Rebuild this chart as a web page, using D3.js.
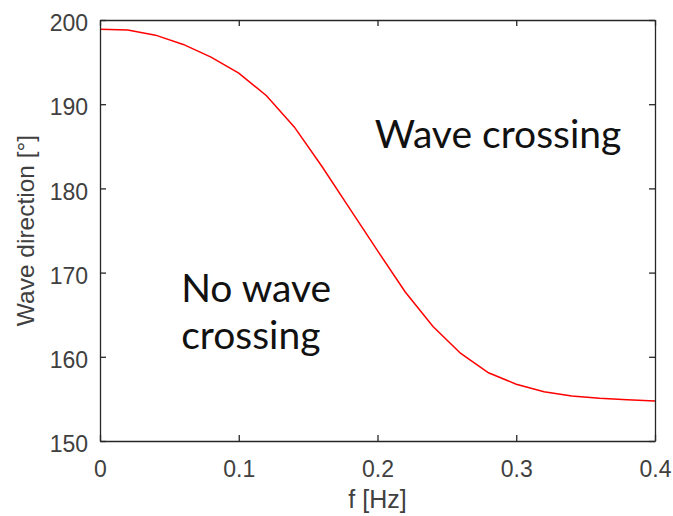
<!DOCTYPE html>
<html><head><meta charset="utf-8">
<script src="https://cdn.jsdelivr.net/npm/d3@7"></script>
<style>body{margin:0;background:#fff}svg{display:block}</style>
</head><body>
<script>
const freq = [0,0.02,0.04,0.06,0.08,0.10,0.12,0.14,0.16,0.18,0.20,0.22,0.24,0.26,0.28,0.30,0.32,0.34,0.36,0.38,0.40];
const direction = [198.9,198.8,198.2,197.1,195.6,193.7,191.0,187.3,182.6,177.6,172.6,167.7,163.6,160.4,158.1,156.75,155.85,155.35,155.08,154.9,154.76];
const xTicks = [0,0.1,0.2,0.3,0.4];
const yTicks = [150,160,170,180,190,200];
const xLabel = "f [Hz]";
const yLabel = "Wave direction [°]";
const notes = [{lines:["Wave crossing"], f:0.198, v:184.8},{lines:["No wave","crossing"], f:0.0585, v:166.5}];

const W=673,H=516, m={left:100,right:18,top:20,bottom:75};
const svg=d3.select("body").append("svg").attr("width",W).attr("height",H);
const x=d3.scaleLinear().domain([0,0.4]).range([m.left,W-m.right]);
const y=d3.scaleLinear().domain([150,200]).range([H-m.bottom,m.top]);
const axc="#262626", tf="'Liberation Sans', Arial, sans-serif";

// curve
svg.append("path").datum(freq.map((f,i)=>[f,direction[i]]))
  .attr("fill","none").attr("stroke","#ff0000").attr("stroke-width",1.5)
  .attr("d",d3.line().x(d=>x(d[0])).y(d=>y(d[1])));

// axes
const fmtX=d=>d===0?"0":d3.format(".1f")(d);
const ax=svg.append("g").attr("transform",`translate(0,${y(150)})`).call(d3.axisBottom(x).tickValues(xTicks).tickFormat(fmtX).tickSizeInner(-6).tickSizeOuter(0).tickPadding(20));
const axt=svg.append("g").attr("transform",`translate(0,${y(200)})`).call(d3.axisTop(x).tickValues(xTicks).tickFormat("").tickSizeInner(-6).tickSizeOuter(0));
const ay=svg.append("g").attr("transform",`translate(${x(0)},0)`).call(d3.axisLeft(y).tickValues(yTicks).tickSizeInner(-6).tickSizeOuter(0).tickPadding(12));
const ayr=svg.append("g").attr("transform",`translate(${x(0.4)},0)`).call(d3.axisRight(y).tickValues(yTicks).tickFormat("").tickSizeInner(-6).tickSizeOuter(0));
[ax,axt,ay,ayr].forEach(g=>{
  g.selectAll("path,line").attr("stroke",axc).attr("stroke-width",1.3);
  g.selectAll("text").attr("fill","#404040").style("font-family",tf).style("font-size","23px");
});
ay.selectAll("text").attr("dy","0.68em").attr("y",-5);

svg.append("text").attr("x",(x(0)+x(0.4))/2).attr("y",508).attr("text-anchor","middle")
  .attr("fill","#404040").style("font-family",tf).style("font-size","25px").text(xLabel);
svg.append("text").attr("transform",`translate(34,${(y(150)+y(200))/2}) rotate(-90)`).attr("text-anchor","middle")
  .attr("fill","#404040").style("font-family",tf).style("font-size","24.5px").text(yLabel);

// annotations
notes.forEach(n=>{
  const t=svg.append("text").attr("x",x(n.f)).attr("y",y(n.v)).attr("fill","#111")
    .style("font-family","Lato, 'Open Sans', sans-serif").style("font-size","39px");
  n.lines.forEach((l,i)=>t.append("tspan").attr("x",x(n.f)).attr("dy",i?47:0).text(l));
});
</script>
</body></html>
